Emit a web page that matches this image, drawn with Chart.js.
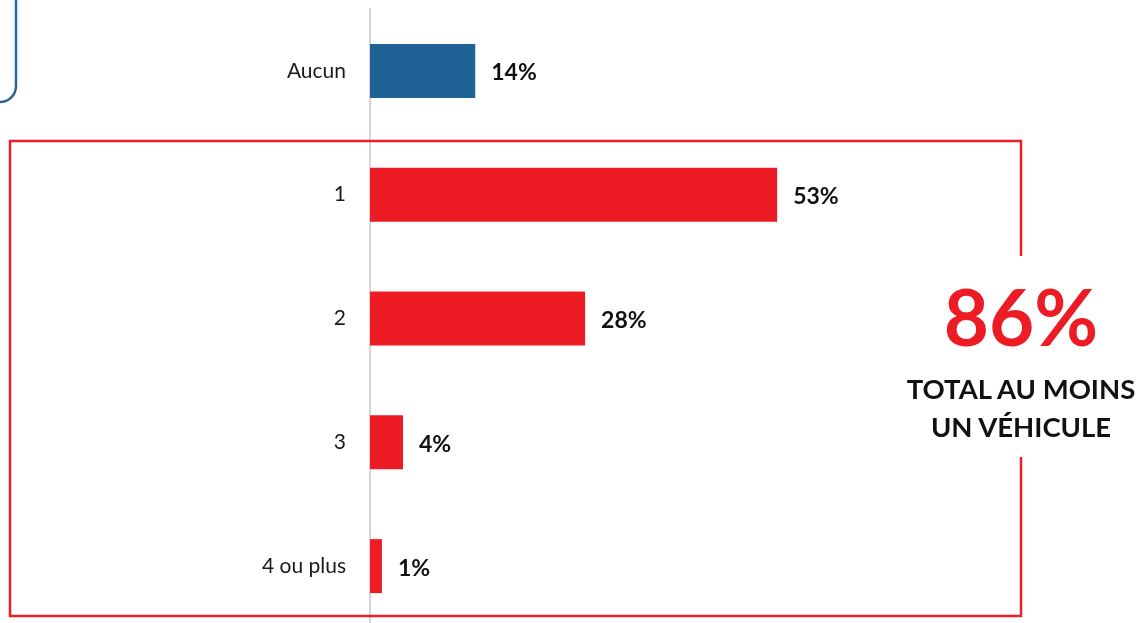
<!DOCTYPE html>
<html>
<head>
<meta charset="utf-8">
<script src="https://cdn.jsdelivr.net/npm/chart.js@4.4.1/dist/chart.umd.min.js"></script>
<style>
  html, body { margin: 0; padding: 0; background: #fff; overflow: hidden; }
  #wrap { position: relative; width: 1140px; height: 640px; }
  .note { position: absolute; left: 871px; width: 300px; text-align: center; font-family: Lato, sans-serif; font-weight: bold; line-height: 1; }
  #big { top: 277px; font-size: 78px; color: #ed1c24; }
  #sub { top: 370px; font-size: 27.5px; color: #111; line-height: 38px; }
</style>
</head>
<body>
<div id="wrap">
  <canvas id="chart" width="1140" height="640"></canvas>
  <div class="note" id="big">86%</div>
  <div class="note" id="sub">TOTAL AU MOINS<br>UN VÉHICULE</div>
</div>
<script>
const categories = ['Aucun', '1', '2', '3', '4 ou plus'];
const values = [13.7, 53, 28, 4.3, 1.55];
const valueLabels = ['14%', '53%', '28%', '4%', '1%'];
const barColors = ['#1f6396', '#ed1c24', '#ed1c24', '#ed1c24', '#ed1c24'];

// boxes + value labels drawn on the canvas
const decor = {
  id: 'decor',
  afterDatasetsDraw(chart) {
    const ctx = chart.ctx;
    const meta = chart.getDatasetMeta(0);
    ctx.save();
    ctx.font = 'bold 23px Lato';
    ctx.fillStyle = '#111';
    ctx.textBaseline = 'middle';
    meta.data.forEach((bar, i) => {
      ctx.fillText(valueLabels[i], bar.x + 16, bar.y + 2);
    });

    // blue rounded box, top-left
    ctx.strokeStyle = '#2a6496';
    ctx.lineWidth = 2.5;
    ctx.beginPath();
    ctx.roundRect(-30, -30, 46, 132, 16);
    ctx.stroke();

    // red frame with a gap on the right side for the annotation
    ctx.strokeStyle = '#ee1f2a';
    ctx.lineWidth = 2.5;
    ctx.beginPath();
    ctx.moveTo(1021, 256);
    ctx.lineTo(1021, 141);
    ctx.lineTo(10, 141);
    ctx.lineTo(10, 616);
    ctx.lineTo(1021, 616);
    ctx.lineTo(1021, 457);
    ctx.stroke();
    ctx.restore();
  }
};

new Chart(document.getElementById('chart'), {
  type: 'bar',
  data: {
    labels: categories,
    datasets: [{
      data: values,
      backgroundColor: barColors,
      barPercentage: 0.436,
      categoryPercentage: 1
    }]
  },
  options: {
    indexAxis: 'y',
    responsive: false,
    animation: false,
    layout: { padding: { top: 9, bottom: 12, left: 0, right: 117 } },
    plugins: { legend: { display: false }, tooltip: { enabled: false } },
    scales: {
      x: {
        min: 0,
        max: 85,
        display: false
      },
      y: {
        afterFit(scale) {
          scale.width = 370;
          scale.paddingTop = 0;
          scale.paddingBottom = 0;
        },
        grid: { display: false, drawTicks: false },
        border: { display: true, color: '#d6d6d6', width: 2 },
        ticks: {
          color: '#1a1a1a',
          padding: 24,
          font: { family: 'Lato', size: 21 }
        }
      }
    }
  },
  plugins: [decor]
});
</script>
</body>
</html>
